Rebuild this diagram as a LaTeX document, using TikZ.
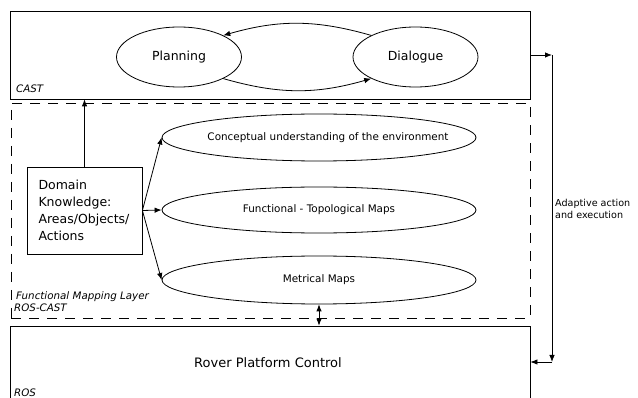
\documentclass[tikz,border=0pt]{standalone}
\usepackage{fontspec}
\setmainfont{DejaVu Sans}
\usetikzlibrary{arrows.meta,shapes.geometric}
\begin{document}
\begin{tikzpicture}[x=1pt,y=-1pt,
  box/.style={draw, line width=0.8pt, rectangle, inner sep=0pt},
  oval/.style={draw, line width=0.8pt, ellipse, inner sep=0pt},
  arr/.style={line width=0.8pt, -{Latex[length=7pt,width=5.5pt]}},
  darr/.style={line width=0.8pt, {Latex[length=7pt,width=5.5pt]}-{Latex[length=7pt,width=5.5pt]}},
  tag/.style={font=\fontsize{10.3}{12}\selectfont\itshape, inner sep=0pt, anchor=base west},
  maplbl/.style={label={[font=\fontsize{10.4}{12}\selectfont]center:#1}},
]
\useasboundingbox (0,0) rectangle (638,398);
\clip (0,0) rectangle (638,398);
% layers
\node[box, minimum width=520pt, minimum height=88pt] (cast) at (270,55) {};
\node[box, dashed, dash pattern=on 10pt off 8pt, minimum width=519pt, minimum height=215pt] (fml) at (270.5,210.5) {};
\node[box, minimum width=520pt, minimum height=74pt] (ros) at (270,363) {};
\node[font=\fontsize{13}{15}\selectfont, inner sep=0pt] (rover) at (268,363) {Rover Platform Control};
% layer tags
\node[tag] (castlbl) at (16,93) {CAST};
\node[tag] (fmllbl) at (16,300) {Functional Mapping Layer};
\node[tag] (roscastlbl) at (14,312) {ROS-CAST};
\node[tag] (roslbl) at (14,397) {ROS};
% CAST ellipses
\node[oval, minimum width=125pt, minimum height=60pt, font=\fontsize{12.5}{15}\selectfont] (planning) at (179,57) {Planning};
\node[oval, minimum width=125pt, minimum height=60pt, font=\fontsize{12.5}{15}\selectfont] (dialogue) at (415.5,57) {Dialogue};
\draw[arr] (dialogue.154) to[bend right=16] (planning.26);
\draw[arr] (planning.-26) to[bend right=16] (dialogue.206);
% mapping ellipses
\node[oval, minimum width=314pt, minimum height=47pt, label={[font=\fontsize{10.4}{12}\selectfont, xshift=9pt]center:Conceptual understanding of the environment}] (concept) at (319,137.5) {};
\node[oval, minimum width=314pt, minimum height=46pt, maplbl={Functional - Topological Maps}] (func) at (319,210) {};
\node[oval, minimum width=314pt, minimum height=48pt, maplbl={Metrical Maps}] (metric) at (319,280) {};
% domain knowledge
\node[box, minimum height=87pt, align=left, font=\fontsize{12.5}{17}\selectfont, text width=92pt, inner xsep=11.5pt] (dk) at (84.5,210.5) {Domain\\Knowledge:\\Areas/Objects/\\Actions};
\draw[arr] (dk.north) -- (dk.north |- cast.south);
\draw[arr] (dk.east) -- (concept.west);
\draw[arr] (dk.east) -- (func.west);
\draw[arr] (dk.east) -- (metric.west);
\draw[darr] (metric.south) -- (metric.south |- ros.north);
% adaptive action loop
\coordinate (c1) at (552,55);
\coordinate (c2) at (552,362);
\draw[arr] (cast.east) -- (c1);
\draw[arr] (c1) -- (c2);
\draw[arr] (c2) -- (c2 -| ros.east);
\node[font=\fontsize{9.6}{12}\selectfont, align=left, anchor=west, inner sep=0pt] (adapt) at (555,209) {Adaptive action\\and execution};
\end{tikzpicture}
\end{document}
